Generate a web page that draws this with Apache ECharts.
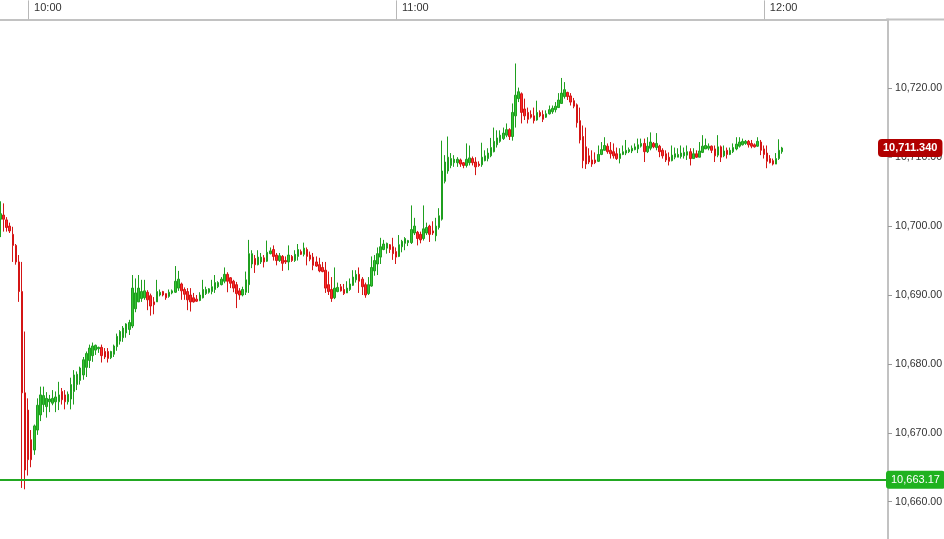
<!DOCTYPE html>
<html>
<head>
<meta charset="utf-8">
<script src="https://cdn.jsdelivr.net/npm/echarts@6/dist/echarts.min.js"></script>
<style>
html,body{margin:0;padding:0;background:#fff;overflow:hidden;}
#chart{width:944px;height:539px;}
</style>
</head>
<body>
<div id="chart"></div>
<script>
// 30-second bars, first slot starts 09:55:30
const sessionStart = '09:55:30';
const slotSeconds = 30;
const slotCount = 290;
const hourLabels = ['10:00', '11:00', '12:00'];
const yTicks = [10660, 10670, 10680, 10690, 10700, 10710, 10720];
const lowLine = 10663.17;
const lastPrice = 10711.34;

// [open, close, low, high]
const candles = [
[10701.0,10701.8,10698.4,10703.6],[10701.6,10701.0,10699.2,10703.3],[10700.9,10699.8,10699.2,10701.3],[10700.0,10699.3,10699.0,10700.5],
[10698.8,10697.2,10694.8,10699.9],[10697.2,10694.8,10694.4,10697.4],[10694.8,10690.5,10689.0,10695.8],[10690.5,10675.8,10662.0,10694.8],
[10675.8,10664.6,10661.8,10684.7],[10673.3,10666.1,10663.8,10675.0],[10669.0,10666.1,10665.0,10670.4],[10667.5,10671.0,10666.8,10671.2],
[10670.4,10674.0,10669.7,10675.0],[10672.6,10675.5,10671.7,10676.7],[10674.1,10675.4,10673.0,10676.7],[10673.8,10675.0,10672.2,10675.9],
[10674.5,10674.9,10673.0,10675.5],[10674.3,10675.0,10674.0,10676.2],[10674.5,10675.2,10673.0,10676.0],[10674.5,10675.5,10673.3,10677.4],
[10676.0,10674.8,10674.1,10676.5],[10675.5,10674.5,10673.4,10676.2],[10674.5,10675.6,10674.1,10676.0],[10674.9,10677.0,10673.4,10678.0],
[10676.0,10678.4,10674.1,10679.1],[10677.0,10678.5,10676.2,10678.9],[10677.6,10679.4,10677.0,10679.6],[10678.4,10680.6,10677.7,10681.0],
[10679.5,10681.5,10678.1,10681.8],[10680.5,10682.3,10679.4,10682.8],[10681.2,10682.6,10680.3,10683.1],[10682.0,10682.7,10681.3,10682.8],
[10682.2,10682.4,10681.6,10682.5],[10682.4,10681.2,10680.2,10682.8],[10681.8,10681.0,10680.7,10682.3],[10681.8,10680.8,10680.2,10682.3],
[10680.9,10681.8,10680.7,10681.9],[10681.4,10682.6,10681.0,10682.8],[10682.5,10684.0,10681.9,10684.4],[10683.3,10684.7,10682.8,10684.9],
[10683.8,10685.2,10683.2,10685.5],[10684.5,10685.8,10683.8,10685.9],[10685.0,10686.0,10684.2,10686.4],[10685.5,10691.0,10685.2,10692.9],
[10688.0,10690.3,10687.5,10692.4],[10689.0,10691.0,10689.0,10692.9],[10689.5,10690.5,10689.0,10692.2],[10689.6,10690.6,10689.3,10692.2],
[10690.4,10689.3,10687.8,10690.7],[10689.9,10688.4,10687.0,10690.2],[10689.0,10688.6,10687.2,10689.7],[10689.0,10690.5,10689.0,10692.2],
[10690.0,10690.4,10689.8,10690.8],[10690.5,10690.0,10689.8,10690.6],[10690.2,10689.6,10689.3,10690.2],[10689.8,10690.4,10689.6,10690.8],
[10690.3,10690.6,10690.1,10690.8],[10690.4,10692.0,10690.3,10694.2],[10691.0,10692.3,10690.6,10693.5],[10691.6,10690.6,10689.3,10691.8],
[10690.8,10690.1,10689.3,10691.1],[10690.5,10689.3,10687.8,10691.0],[10690.0,10689.0,10687.6,10691.0],[10689.6,10689.0,10688.9,10690.3],
[10689.4,10689.1,10689.0,10690.0],[10689.2,10690.0,10689.1,10690.4],[10689.6,10690.8,10689.5,10692.2],[10690.2,10690.8,10690.0,10691.2],
[10690.4,10690.9,10690.2,10691.0],[10690.5,10691.2,10690.1,10692.2],[10690.8,10691.8,10690.3,10692.9],[10691.2,10691.8,10691.0,10692.0],
[10691.5,10692.3,10691.4,10692.6],[10692.0,10693.0,10691.7,10694.0],[10693.0,10692.0,10690.4,10693.3],[10692.5,10691.7,10691.0,10692.6],
[10692.0,10691.0,10690.4,10692.2],[10691.5,10690.2,10688.1,10691.9],[10690.6,10690.0,10689.3,10691.0],[10690.0,10690.8,10689.8,10691.2],
[10690.4,10692.2,10690.0,10693.4],[10691.5,10696.0,10690.3,10698.0],[10694.5,10696.0,10693.9,10696.5],[10695.3,10694.4,10693.2,10695.8],
[10694.4,10695.5,10694.3,10696.5],[10694.8,10695.5,10694.5,10696.1],[10695.4,10694.8,10694.0,10695.8],[10694.9,10696.2,10694.8,10697.9],
[10696.0,10696.4,10695.9,10696.9],[10696.6,10695.6,10695.0,10697.2],[10695.8,10695.0,10694.3,10696.1],[10695.0,10695.7,10694.8,10696.1],
[10695.6,10694.6,10693.5,10695.8],[10695.0,10694.8,10694.5,10695.6],[10694.8,10695.8,10693.6,10697.2],[10695.6,10695.0,10694.8,10695.8],
[10695.0,10695.9,10694.8,10696.5],[10695.6,10696.6,10695.0,10697.4],[10696.3,10695.9,10695.8,10696.6],[10695.9,10696.8,10695.6,10697.6],
[10696.6,10695.6,10694.3,10696.9],[10695.8,10695.2,10694.9,10696.3],[10695.5,10694.3,10693.6,10696.1],[10694.8,10694.2,10694.1,10695.6],
[10694.4,10693.5,10693.3,10695.4],[10694.0,10693.4,10693.3,10694.8],[10693.6,10691.0,10690.3,10694.8],[10691.5,10690.5,10690.0,10693.4],
[10690.8,10689.5,10689.0,10692.6],[10689.6,10691.0,10689.4,10694.0],[10690.5,10691.1,10690.4,10691.8],[10691.2,10690.6,10690.5,10691.6],
[10690.8,10690.2,10690.0,10691.6],[10690.3,10691.0,10690.3,10692.0],[10690.8,10691.6,10690.6,10692.4],[10691.4,10692.6,10691.3,10693.6],
[10692.2,10693.0,10691.8,10693.6],[10693.0,10692.0,10690.3,10694.0],[10692.3,10691.2,10690.0,10692.6],[10691.5,10690.0,10689.6,10691.8],
[10690.2,10691.5,10690.0,10692.6],[10691.3,10694.0,10691.2,10695.6],[10693.5,10695.0,10692.8,10695.8],[10694.5,10696.0,10692.9,10696.9],
[10695.5,10697.0,10694.5,10698.3],[10696.6,10697.4,10696.5,10698.0],[10696.8,10697.5,10696.0,10697.6],[10697.3,10696.6,10696.1,10697.4],
[10697.0,10696.0,10695.1,10698.3],[10696.3,10695.5,10694.5,10696.9],[10695.6,10697.3,10695.5,10698.7],[10697.0,10697.8,10696.2,10698.0],
[10697.5,10698.2,10696.5,10698.4],[10697.6,10697.9,10697.1,10698.0],[10697.6,10699.5,10697.4,10703.0],[10699.0,10700.0,10698.7,10701.2],
[10699.1,10698.2,10697.2,10699.3],[10698.8,10698.0,10697.5,10699.2],[10698.2,10699.6,10697.9,10703.0],[10699.0,10699.8,10698.7,10700.5],
[10700.0,10698.8,10697.7,10700.2],[10699.3,10699.0,10698.7,10700.7],[10698.6,10700.0,10697.8,10701.2],[10699.8,10701.5,10699.5,10702.6],
[10701.0,10708.0,10700.8,10712.4],[10706.5,10709.3,10706.2,10710.3],[10708.0,10710.0,10707.6,10713.0],[10708.8,10709.8,10708.4,10710.6],
[10709.2,10709.7,10708.6,10710.3],[10709.2,10709.7,10708.6,10710.0],[10709.6,10709.0,10708.6,10709.8],[10709.2,10708.8,10708.4,10709.3],
[10708.8,10709.7,10708.5,10712.0],[10709.2,10709.9,10708.8,10711.7],[10709.8,10709.2,10708.8,10710.1],[10709.3,10708.6,10707.4,10710.0],
[10709.0,10708.8,10708.6,10709.4],[10708.9,10710.0,10708.6,10712.1],[10709.5,10710.2,10709.4,10711.0],[10709.8,10710.6,10709.4,10711.3],
[10710.2,10711.4,10710.0,10712.8],[10710.8,10712.3,10710.7,10714.3],[10711.8,10712.8,10711.4,10713.9],[10712.3,10713.2,10712.1,10713.9],
[10712.7,10713.5,10712.5,10714.3],[10713.2,10714.0,10712.9,10714.9],[10714.0,10713.0,10712.5,10714.2],[10713.0,10716.5,10712.4,10717.8],
[10716.0,10719.0,10714.3,10723.6],[10718.5,10719.5,10718.0,10720.1],[10719.2,10716.5,10714.9,10719.4],[10717.0,10716.0,10715.4,10718.5],
[10716.5,10715.5,10714.9,10717.2],[10716.2,10715.8,10715.6,10716.8],[10716.0,10715.3,10714.9,10717.2],[10715.4,10716.5,10715.3,10718.2],
[10716.5,10716.0,10715.8,10716.8],[10716.2,10715.5,10715.1,10716.8],[10715.8,10716.3,10715.7,10716.8],[10716.3,10716.9,10716.2,10717.5],
[10716.6,10717.1,10716.3,10717.5],[10716.9,10717.4,10716.5,10718.0],[10717.2,10718.3,10717.2,10719.3],[10717.8,10719.3,10717.8,10721.5],
[10718.8,10719.8,10718.5,10720.9],[10719.4,10718.8,10718.3,10719.5],[10718.9,10718.0,10717.5,10719.3],[10718.2,10717.4,10717.1,10718.6],
[10717.6,10715.0,10714.3,10717.8],[10715.3,10712.5,10712.0,10717.2],[10713.0,10709.5,10708.4,10714.6],[10711.5,10709.0,10708.3,10714.3],
[10710.2,10709.3,10709.0,10711.3],[10709.6,10709.0,10708.6,10711.0],[10709.6,10709.2,10709.0,10710.7],[10709.4,10710.4,10709.3,10711.7],
[10710.4,10711.1,10710.3,10712.2],[10711.0,10711.7,10711.0,10712.9],[10711.6,10710.8,10710.5,10712.0],[10711.0,10710.5,10709.8,10712.2],
[10710.8,10710.2,10709.8,10712.0],[10710.5,10709.8,10709.6,10711.4],[10709.8,10710.5,10709.1,10711.3],[10710.4,10710.8,10710.3,10711.7],
[10710.6,10711.0,10710.3,10712.5],[10710.8,10711.1,10710.6,10711.4],[10710.9,10711.3,10710.6,10711.7],[10711.1,10711.5,10711.0,10712.0],
[10711.2,10711.8,10710.6,10712.7],[10711.6,10712.0,10711.4,10712.7],[10712.0,10710.8,10709.3,10712.7],[10710.8,10711.6,10710.6,10712.9],
[10711.3,10712.2,10711.0,10713.6],[10712.0,10711.5,10711.3,10712.2],[10711.4,10712.0,10711.0,10713.5],[10711.6,10710.8,10710.0,10711.8],
[10711.0,10710.2,10709.8,10711.3],[10710.5,10709.6,10709.3,10711.0],[10710.0,10709.4,10708.8,10710.7],[10709.5,10710.3,10709.4,10711.7],
[10710.0,10710.5,10709.7,10711.4],[10710.0,10710.4,10710.0,10711.3],[10710.1,10710.6,10709.8,10711.7],[10710.2,10710.7,10709.8,10711.4],
[10710.3,10710.8,10709.6,10711.7],[10710.8,10709.8,10708.8,10711.3],[10709.8,10710.5,10709.8,10711.3],[10710.5,10710.0,10709.9,10711.0],
[10710.0,10710.9,10710.0,10712.2],[10710.7,10711.6,10710.6,10713.2],[10711.2,10711.7,10711.2,10712.7],[10711.3,10711.6,10711.0,10712.0],
[10711.6,10711.0,10710.6,10711.7],[10711.2,10710.2,10709.3,10711.7],[10710.3,10711.5,10710.0,10713.2],[10711.5,10710.0,10709.3,10711.7],
[10710.2,10710.9,10710.0,10711.7],[10711.0,10710.4,10709.8,10711.4],[10710.4,10711.0,10710.3,10711.4],[10710.8,10711.4,10710.6,10712.0],
[10711.2,10711.9,10711.0,10712.9],[10711.6,10712.2,10711.4,10712.9],[10711.8,10712.3,10711.7,10712.7],[10712.0,10712.3,10711.8,10712.5],
[10712.3,10711.8,10711.4,10712.5],[10712.0,10711.6,10711.3,10712.5],[10711.8,10711.5,10711.4,10712.0],[10711.6,10712.3,10711.5,10712.9],
[10712.2,10711.0,10710.3,10712.5],[10711.2,10710.4,10709.8,10711.7],[10710.6,10709.4,10708.4,10711.7],[10709.8,10709.2,10709.1,10710.3],
[10709.5,10709.0,10708.8,10709.8],[10709.0,10709.8,10709.0,10710.6],[10709.8,10711.0,10709.6,10712.6],[10710.8,10711.34,10710.5,10711.5]
];

function pad(n){return (n<10?'0':'')+n;}
function buildSlots(){
  const p = sessionStart.split(':').map(Number);
  const base = p[0]*3600 + p[1]*60 + p[2];
  const out = [];
  for (let i = 0; i < slotCount; i++) {
    const t = base + i*slotSeconds;
    out.push(pad(Math.floor(t/3600)) + ':' + pad(Math.floor(t%3600/60)) + ':' + pad(t%60));
  }
  return out;
}
const slots = buildSlots();
const isHour = (idx, val) => hourLabels.indexOf(val.slice(0,5)) >= 0 && val.slice(6) === '00';
function fmt(v, d){return v.toLocaleString('en-US',{minimumFractionDigits:d,maximumFractionDigits:d});}

const FONT = 'Liberation Sans, Arial, sans-serif';
const GREEN = '#33c633', GREEN_DK = '#1f9f1f';
const RED = '#ff2a2a', RED_DK = '#d41515';

const chart = echarts.init(document.getElementById('chart'), null, {renderer:'canvas', width: 944, height: 539});
chart.setOption({
  animation: false,
  backgroundColor: '#ffffff',
  grid: {left: -1, right: 56, top: 19.4, height: 551.2, containLabel: false, outerBoundsMode: 'none'},
  xAxis: {
    type: 'category',
    position: 'top',
    data: slots,
    boundaryGap: true,
    axisLine: {show: true, lineStyle: {color: '#c2c2c2', width: 2}},
    axisTick: {show: true, alignWithLabel: true, interval: isHour, length: 19, lineStyle: {color: '#b8b8b8', width: 1}},
    axisLabel: {show: true, interval: isHour, formatter: v => v.slice(0,5), align: 'left', padding: [0,0,0,6],
      margin: 6, color: '#333', fontSize: 11, fontFamily: FONT},
    splitLine: {show: false}
  },
  yAxis: {
    type: 'value',
    position: 'right',
    min: 10650, max: 10730, interval: 10,
    axisLine: {show: true, lineStyle: {color: '#c2c2c2', width: 2}},
    axisTick: {show: true, length: 4, lineStyle: {color: '#999'}},
    axisLabel: {show: true, margin: 7, color: '#333', fontSize: 10.6, fontFamily: FONT,
      showMaxLabel: false,
      formatter: v => yTicks.indexOf(Math.round(v)) >= 0 ? fmt(v, 2) : ''},
    splitLine: {show: false}
  },
  graphic: [{
    type: 'line', silent: true, z: 10,
    shape: {x1: 886, y1: 19.4, x2: 944, y2: 19.4},
    style: {stroke: '#c2c2c2', lineWidth: 2}
  }],
  series: [{
    type: 'candlestick',
    data: candles,
    barWidth: 2,
    itemStyle: {color: GREEN, color0: RED, borderColor: GREEN_DK, borderColor0: RED_DK, borderWidth: 1},
    markLine: {
      silent: true,
      symbol: ['none','none'],
      animation: false,
      data: [
        {yAxis: lowLine,
         lineStyle: {color: '#22a822', width: 2, type: 'solid'},
         label: {show: true, position: 'end', distance: -2, formatter: () => fmt(lowLine, 2),
           color: '#fff', backgroundColor: '#1fb21f', borderRadius: 3, padding: [4,5,3,5],
           fontSize: 11, fontFamily: FONT}},
        {yAxis: lastPrice,
         lineStyle: {color: 'rgba(0,0,0,0)', width: 1, type: 'solid'},
         label: {show: true, position: 'end', distance: -10, formatter: () => fmt(lastPrice, 3),
           color: '#fff', backgroundColor: '#b10000', borderRadius: 4, padding: [4,5,3,5],
           fontSize: 11, fontWeight: 'bold', fontFamily: FONT}}
      ]
    }
  }]
});
</script>
</body>
</html>
